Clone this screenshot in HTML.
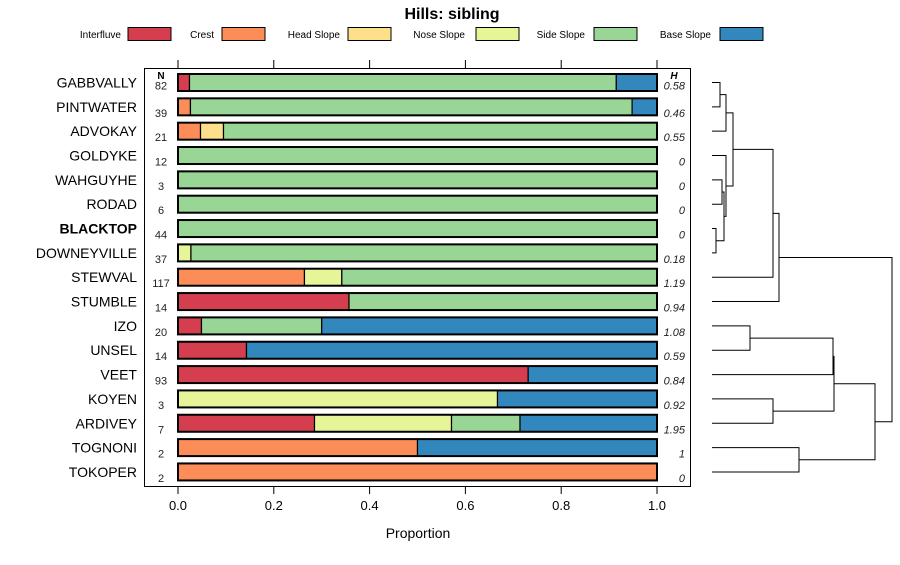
<!DOCTYPE html>
<html><head><meta charset="utf-8"><style>
body{margin:0;background:#fff;width:900px;height:560px;overflow:hidden;font-family:"Liberation Sans",sans-serif}
</style></head><body>
<svg id="chart" width="900" height="560" xmlns="http://www.w3.org/2000/svg" font-family="Liberation Sans, sans-serif"></svg>
<script>
const categories=["GABBVALLY","PINTWATER","ADVOKAY","GOLDYKE","WAHGUYHE","RODAD","BLACKTOP","DOWNEYVILLE","STEWVAL","STUMBLE","IZO","UNSEL","VEET","KOYEN","ARDIVEY","TOGNONI","TOKOPER"];
const classes=["Interfluve","Crest","Head Slope","Nose Slope","Side Slope","Base Slope"];
const colors=["#D53E4F","#FC8D59","#FEE08B","#E6F598","#99D594","#3288BD"];
const interfluve=[0.024,0,0,0,0,0,0,0,0,0.357,0.049,0.143,0.731,0,0.285,0,0];
const crest=[0,0.026,0.047,0,0,0,0,0,0.264,0,0,0,0,0,0,0.5,1];
const headSlope=[0,0,0.048,0,0,0,0,0,0,0,0,0,0,0,0,0,0];
const noseSlope=[0,0,0,0,0,0,0,0.027,0.078,0,0,0,0,0.667,0.286,0,0];
const sideSlope=[0.891,0.922,0.905,1,1,1,1,0.973,0.658,0.643,0.251,0,0,0,0.143,0,0];
const baseSlope=[0.085,0.052,0,0,0,0,0,0,0,0,0.70,0.857,0.269,0.333,0.286,0.5,0];
const nValues=["82","39","21","12","3","6","44","37","117","14","20","14","93","3","7","2","2"];
const hValues=["0.58","0.46","0.55","0","0","0","0","0.18","1.19","0.94","1.08","0.59","0.84","0.92","1.95","1","0"];
const xTicks=[0,0.2,0.4,0.6,0.8,1.0];
// dendrogram merges: [left child, right child, height]; leaves are row indices, "m#" refers to merge index
const merges=[[0,1,0.08],["m0",2,0.14],[4,5,0.10],[6,7,0.04],["m2","m3",0.12],[3,"m4",0.14],["m1","m5",0.21],["m6",8,0.61],["m7",9,0.67],[10,11,0.38],["m9",12,1.21],[13,14,0.61],["m10","m11",1.22],[15,16,0.87],["m12","m13",1.63],["m8","m14",1.80]];

const svg=document.getElementById('chart');
const NS="http://www.w3.org/2000/svg";
function mk(tag,attrs,parent){const e=document.createElementNS(NS,tag);for(const k in attrs)e.setAttribute(k,attrs[k]);(parent||svg).appendChild(e);return e;}
const X0=178,X1=657;
const xs=v=>X0+(X1-X0)*v;
const ys=i=>82.5+i*24.34;
const BH=17;

// title
let t=mk('text',{x:452,y:19,'text-anchor':'middle','font-size':16,'font-weight':'bold',fill:'#000'});
t.textContent="Hills: sibling";



// legend
const legText=[121,214,340,465,585,711];
const legBox=[128,222,348,476,594,720];
classes.forEach((c,i)=>{
  const g=mk('g',{});
  
  
  const tx=mk('text',{x:legText[i],y:38,'text-anchor':'end','font-size':10,fill:'#000'},g);tx.textContent=c;
  mk('rect',{x:legBox[i],y:27.5,width:43,height:13,fill:colors[i],stroke:'#000','stroke-width':1},g);
});

// plot box
const box=mk('rect',{x:144.5,y:68.5,width:546,height:418,fill:'none',stroke:'#000','stroke-width':1});



// ticks
xTicks.forEach(v=>{
  const x=xs(v);
  mk('line',{x1:x,x2:x,y1:68,y2:60,stroke:'#000'});
  mk('line',{x1:x,x2:x,y1:487,y2:494,stroke:'#000'});
  const l=mk('text',{x:x,y:510,'text-anchor':'middle','font-size':13,fill:'#000'});
  l.textContent=v.toFixed(1);
  
  
});
const xt=mk('text',{x:418,y:538,'text-anchor':'middle','font-size':14,fill:'#000'});
xt.textContent="Proportion";



// N and H headers
let nh=mk('text',{x:161,y:79,'text-anchor':'middle','font-size':10,'font-weight':'bold'});nh.textContent="N";

let hh=mk('text',{x:674,y:79,'text-anchor':'middle','font-size':10,'font-weight':'bold','font-style':'italic'});hh.textContent="H";


const series=[interfluve,crest,headSlope,noseSlope,sideSlope,baseSlope];
categories.forEach((c,i)=>{
  const y=ys(i);
  const lab=mk('text',{x:137,y:y+5,'text-anchor':'end','font-size':14,'font-weight':c==="BLACKTOP"?'bold':'normal',fill:'#000'});
  lab.textContent=c;
  
  
  const n=mk('text',{x:161,y:y+(i===0?7:10),'text-anchor':'middle','font-size':11,fill:'#222'});
  n.textContent=nValues[i];
  
  
  const h=mk('text',{x:685,y:y+(i===0?7:10),'text-anchor':'end','font-size':11,'font-style':'italic',fill:'#222'});
  h.textContent=hValues[i];
  
  
  let acc=0;
  series.forEach((s,k)=>{
    if(s[i]>0){
      const r=mk('rect',{x:xs(acc),y:y-BH/2,width:xs(acc+s[i])-xs(acc),height:BH,fill:colors[k],stroke:'#000','stroke-width':1.2});
      
      
      acc+=s[i];
    }
  });
  const o=mk('rect',{x:X0,y:y-BH/2,width:X1-X0,height:BH,fill:'none',stroke:'#000','stroke-width':2});
  
  
});

// dendrogram
const DX0=712,DX1=892,HMAX=1.80;
const dx=h=>DX0+(DX1-DX0)*h/HMAX;
const dg=mk('g',{stroke:'#000','stroke-width':1,fill:'none'});


const info=[];
function node(ref){if(typeof ref==='number')return {x:DX0,y:ys(ref)};return info[+ref.slice(1)];}
merges.forEach((m,i)=>{
  const a=node(m[0]),b=node(m[1]);const x=dx(m[2]);
  mk('path',{d:`M${a.x},${a.y}H${x}V${b.y}H${b.x}`},dg);
  info.push({x:x,y:(a.y+b.y)/2});
});
</script>
</body></html>
